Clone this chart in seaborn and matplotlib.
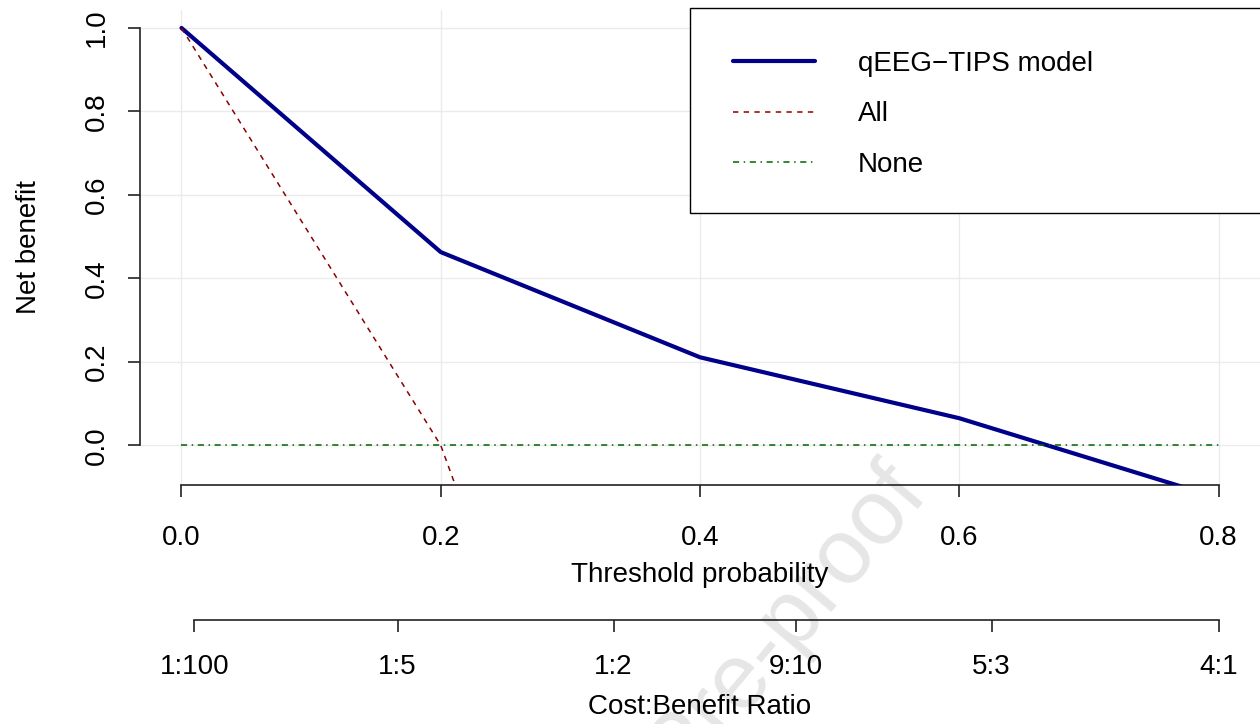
import matplotlib
matplotlib.use('Agg')
import matplotlib.pyplot as plt
from matplotlib.patches import Rectangle
import seaborn as sns
import pandas as pd
import numpy as np

# decision curve values
thresholds = [0.0, 0.2, 0.4, 0.6, 0.8]
nb_model = [1.0, 0.463, 0.211, 0.065, -0.126]
nb_all = [1.0, 0.0, -1.7, -5.0, -15.0]
nb_none = [0.0, 0.0, 0.0, 0.0, 0.0]

x_ticks = [0.0, 0.2, 0.4, 0.6, 0.8]
y_ticks = [0.0, 0.2, 0.4, 0.6, 0.8, 1.0]
cost_benefit = ['1:100', '1:5', '1:2', '9:10', '5:3', '4:1']

sns.set_style('white')
plt.rcParams['font.family'] = ['Liberation Sans', 'DejaVu Sans']
plt.rcParams['font.size'] = 20
for k in ['text.color', 'axes.labelcolor', 'xtick.labelcolor', 'ytick.labelcolor']:
    plt.rcParams[k] = 'black'

FS = 20
W, H = 1260, 724
fig = plt.figure(figsize=(W / 100, H / 100), dpi=100)
fig.patch.set_facecolor('white')

# faint watermark, behind everything
fig.text(930 / W, 1 - 495 / H, 'Journal Pre-proof', fontsize=66, color='#e6e6e6',
         rotation=50, rotation_mode='anchor', ha='right', va='baseline', zorder=-5)

ax = fig.add_axes([140 / W, 1 - 485 / H, 1120 / W, 475 / H])
ax.set_facecolor('none')

df = pd.DataFrame({'threshold': thresholds, 'model': nb_model,
                   'all': nb_all, 'none': nb_none})

sns.lineplot(data=df, x='threshold', y='model', ax=ax, color='#00008B',
             lw=3.0, label='qEEG\u2212TIPS model', zorder=3)
sns.lineplot(data=df, x='threshold', y='all', ax=ax, color='#8B0000',
             lw=1.1, linestyle=(0, (3.5, 3.5)), label='All', zorder=3)
sns.lineplot(data=df, x='threshold', y='none', ax=ax, color='#006400',
             lw=1.1, linestyle=(0, (4, 3, 1, 3)), label='None', zorder=3)

ax.set_xlim(-0.032, 0.832)
ax.set_ylim(-0.095, 1.043)
ax.set_xticks(x_ticks)
ax.set_yticks(y_ticks)
ax.set_xticklabels([f'{v:.1f}' for v in x_ticks])
ax.set_yticklabels([f'{v:.1f}' for v in y_ticks], rotation=90, va='center')
ax.grid(True, color='#ebebeb', lw=1.0, zorder=0)
ax.set_axisbelow(True)

for s in ['top', 'right']:
    ax.spines[s].set_visible(False)
ax.spines['left'].set_bounds(0, 1.0)
ax.spines['bottom'].set_bounds(0, 0.8)
for s in ['left', 'bottom']:
    ax.spines[s].set_color('#222222')
    ax.spines[s].set_linewidth(1.2)
ax.tick_params(axis='both', direction='out', length=8.6, width=1.2,
               color='#222222', labelsize=FS, left=True, bottom=True)
ax.tick_params(axis='x', pad=20)
ax.tick_params(axis='y', pad=13)
ax.set_xlabel('Threshold probability', fontsize=FS, labelpad=8)
ax.set_ylabel('Net benefit', fontsize=FS, labelpad=30)

# legend box runs off the right edge like the original
box = Rectangle((690 / W, 1 - 213 / H), 700 / W, 205 / H, transform=fig.transFigure,
                facecolor='white', edgecolor='black', lw=1.0, zorder=4, clip_on=False)
ax.add_patch(box)
leg = ax.legend(loc='upper left', bbox_to_anchor=(733 / W, 1 - 51 / H),
                bbox_transform=fig.transFigure, frameon=False, borderaxespad=0,
                borderpad=0, handlelength=2.95, handletextpad=1.55,
                labelspacing=0.88, fontsize=FS)
leg.set_zorder(5)

# cost:benefit axis
ratio_pos = []
for r in cost_benefit:
    a, b = r.split(':')
    ratio_pos.append(float(a) / (float(a) + float(b)))
ax2 = fig.add_axes([140 / W, 1 - 620 / H, 1120 / W, 1e-4])
ax2.set_facecolor('none')
ax2.set_xlim(ax.get_xlim())
ax2.set_yticks([])
for s in ['top', 'right', 'left']:
    ax2.spines[s].set_visible(False)
ax2.spines['bottom'].set_bounds(ratio_pos[0], ratio_pos[-1])
ax2.spines['bottom'].set_color('#222222')
ax2.spines['bottom'].set_linewidth(1.2)
ax2.set_xticks(ratio_pos)
ax2.set_xticklabels(cost_benefit)
ax2.tick_params(axis='x', direction='out', length=8.6, width=1.2,
                color='#222222', labelsize=FS, pad=16, bottom=True)
ax2.set_xlabel('Cost:Benefit Ratio', fontsize=FS, labelpad=10)

fig.savefig('out.png', dpi=100)
